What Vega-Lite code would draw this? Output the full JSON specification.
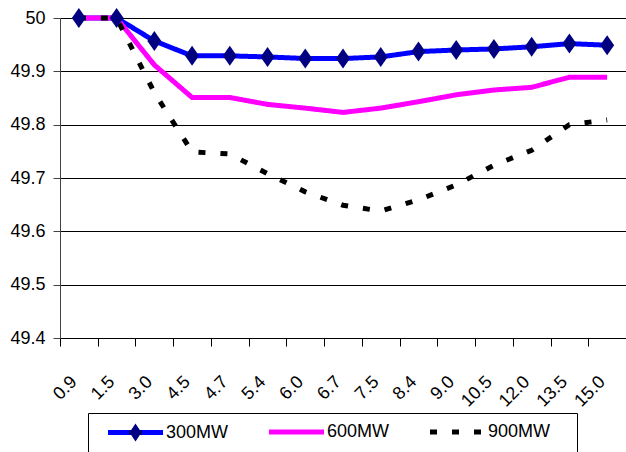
{
  "$schema": "https://vega.github.io/schema/vega-lite/v6.json",
  "width": 566,
  "height": 320,
  "autosize": {"type": "none"},
  "padding": {"left": 60, "top": 18, "right": 0, "bottom": 114},
  "background": "white",
  "config": {
    "view": {"stroke": null},
    "font": "Liberation Sans",
    "axis": {"labelFont": "Liberation Sans", "labelFontSize": 18, "labelColor": "#000"},
    "legend": {"labelFont": "Liberation Sans", "labelFontSize": 18, "labelColor": "#000"}
  },
  "data": {
    "values": [
      {"x": "0.9", "series": "300MW", "v": 50},
      {"x": "1.5", "series": "300MW", "v": 50},
      {"x": "3.0", "series": "300MW", "v": 49.957},
      {"x": "4.5", "series": "300MW", "v": 49.929},
      {"x": "4.7", "series": "300MW", "v": 49.929},
      {"x": "5.4", "series": "300MW", "v": 49.927},
      {"x": "6.0", "series": "300MW", "v": 49.924},
      {"x": "6.7", "series": "300MW", "v": 49.924},
      {"x": "7.5", "series": "300MW", "v": 49.927},
      {"x": "8.4", "series": "300MW", "v": 49.937},
      {"x": "9.0", "series": "300MW", "v": 49.94},
      {"x": "10.5", "series": "300MW", "v": 49.942},
      {"x": "12.0", "series": "300MW", "v": 49.946},
      {"x": "13.5", "series": "300MW", "v": 49.952},
      {"x": "15.0", "series": "300MW", "v": 49.949},
      {"x": "0.9", "series": "600MW", "v": 50},
      {"x": "1.5", "series": "600MW", "v": 50},
      {"x": "3.0", "series": "600MW", "v": 49.912},
      {"x": "4.5", "series": "600MW", "v": 49.851},
      {"x": "4.7", "series": "600MW", "v": 49.851},
      {"x": "5.4", "series": "600MW", "v": 49.838},
      {"x": "6.0", "series": "600MW", "v": 49.831},
      {"x": "6.7", "series": "600MW", "v": 49.823},
      {"x": "7.5", "series": "600MW", "v": 49.831},
      {"x": "8.4", "series": "600MW", "v": 49.843},
      {"x": "9.0", "series": "600MW", "v": 49.856},
      {"x": "10.5", "series": "600MW", "v": 49.865},
      {"x": "12.0", "series": "600MW", "v": 49.87},
      {"x": "13.5", "series": "600MW", "v": 49.889},
      {"x": "15.0", "series": "600MW", "v": 49.889},
      {"x": "0.9", "series": "900MW", "v": 50},
      {"x": "1.5", "series": "900MW", "v": 50},
      {"x": "3.0", "series": "900MW", "v": 49.86},
      {"x": "4.5", "series": "900MW", "v": 49.749},
      {"x": "4.7", "series": "900MW", "v": 49.745},
      {"x": "5.4", "series": "900MW", "v": 49.708},
      {"x": "6.0", "series": "900MW", "v": 49.674},
      {"x": "6.7", "series": "900MW", "v": 49.649},
      {"x": "7.5", "series": "900MW", "v": 49.638},
      {"x": "8.4", "series": "900MW", "v": 49.659},
      {"x": "9.0", "series": "900MW", "v": 49.687},
      {"x": "10.5", "series": "900MW", "v": 49.724},
      {"x": "12.0", "series": "900MW", "v": 49.752},
      {"x": "13.5", "series": "900MW", "v": 49.8},
      {"x": "15.0", "series": "900MW", "v": 49.809}
    ]
  },
  "encoding": {
    "x": {
      "field": "x", "type": "ordinal", "sort": null,
      "scale": {"paddingInner": 0, "paddingOuter": 0},
      "axis": {
        "title": null, "labelAngle": -45, "labelAlign": "right", "labelBaseline": "middle",
        "labelPadding": 33, "labelOffset": -5, "tickBand": "extent", "tickSize": 8,
        "tickColor": "#000", "domainColor": "#000", "grid": false, "labelOverlap": false
      }
    },
    "y": {
      "field": "v", "type": "quantitative",
      "scale": {"domain": [49.4, 50], "zero": false, "nice": false},
      "axis": {
        "title": null, "values": [49.4, 49.5, 49.6, 49.7, 49.8, 49.9, 50], "format": "~g",
        "grid": true, "gridColor": "#000", "gridWidth": 1, "domainColor": "#444",
        "tickColor": "#444", "tickSize": 7, "labelPadding": 8
      }
    }
  },
  "layer": [
    {
      "mark": {"type": "line", "strokeWidth": 5, "strokeCap": "butt"},
      "encoding": {
        "color": {
          "field": "series", "type": "nominal",
          "scale": {"domain": ["300MW", "600MW", "900MW"], "range": ["#0000FF", "#FF00FF", "#000000"]},
          "legend": {
            "orient": "none", "legendX": 28, "legendY": 395, "direction": "horizontal", "title": null,
            "symbolType": "M-2,0L9,0", "symbolSize": 100, "symbolStrokeWidth": 5, "symbolOffset": 11,
            "labelOffset": 39, "columnPadding": 30, "padding": 10,
            "strokeColor": "#000", "fillColor": "white",
            "encode": {
              "symbols": {
                "update": {
                  "shape": {"signal": "datum.value === '300MW' ? 'M-2,-0.5L9,-0.5L9,0.5L-2,0.5ZM3.5,-1.8L4.7,0L3.5,1.8L2.3,0Z' : datum.value === '900MW' ? 'M-2,0L9,0M23.4,0' : 'M-2,0L9,0'"},
                  "strokeWidth": {"signal": "datum.value === '300MW' ? 0 : 5"},
                  "fill": [
                    {"test": "datum.value === '300MW'", "value": {"gradient": "linear", "x1": 0, "y1": 0, "x2": 1, "y2": 0, "stops": [
                      {"offset": 0, "color": "#0000FF"},
                      {"offset": 0.39, "color": "#0000FF"},
                      {"offset": 0.39, "color": "#000080"},
                      {"offset": 0.61, "color": "#000080"},
                      {"offset": 0.61, "color": "#0000FF"},
                      {"offset": 1, "color": "#0000FF"}
                    ]}},
                    {"value": "transparent"}
                  ]
                }
              }
            }
          }
        },
        "strokeDash": {
          "field": "series", "type": "nominal",
          "scale": {"domain": ["300MW", "600MW", "900MW"], "range": [[1, 0], [1, 0], [7, 15]]},
          "legend": {
            "orient": "none", "legendX": 28, "legendY": 395, "direction": "horizontal", "title": null,
            "symbolType": "M-2,0L9,0", "symbolSize": 100, "symbolStrokeWidth": 5, "symbolOffset": 11,
            "labelOffset": 39, "columnPadding": 30, "padding": 10,
            "strokeColor": "#000", "fillColor": "white"
          }
        }
      }
    },
    {
      "transform": [{"filter": "datum.series === '300MW'"}],
      "mark": {"type": "point", "filled": true, "fill": "#000080", "opacity": 1, "size": 400, "strokeWidth": 0, "shape": "M0,-1L0.7,0L0,1L-0.7,0Z"}
    }
  ]
}
